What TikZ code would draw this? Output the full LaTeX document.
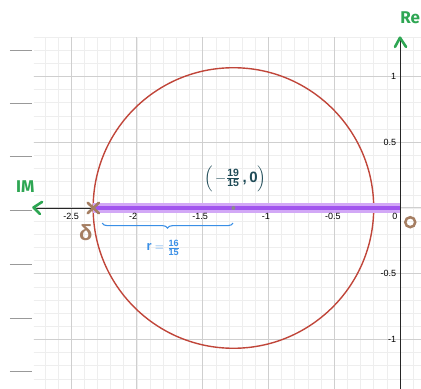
\documentclass[tikz,border=0pt]{standalone}
\usepackage{amsmath}
\usepackage{fontspec}
\setmainfont{Liberation Sans}
\newfontfamily\hand{Fira Sans}
\usetikzlibrary{decorations.pathreplacing}
\definecolor{gminor}{HTML}{EEEEEE}
\definecolor{gmajor}{HTML}{CFCFCF}
\definecolor{greenlab}{HTML}{2EA653}
\definecolor{circ}{HTML}{C0463A}
\definecolor{bandout}{HTML}{D2A8F6}
\definecolor{bandin}{HTML}{A155EE}
\definecolor{brownm}{HTML}{A57E62}
\definecolor{tealm}{HTML}{1F4B57}
\definecolor{bluem}{HTML}{3A8FE6}
\begin{document}
\begin{tikzpicture}[x=131.5pt,y=131.5pt,
  minorline/.style={draw=gminor,line width=0.7pt},
  majorline/.style={draw=gmajor,line width=1pt},
  axisline/.style={draw=black!85,line width=0.9pt},
  ticklab/.style={font=\fontsize{9}{10}\selectfont,inner sep=1pt},
  greenmark/.style={draw=greenlab,line width=2.6pt,line cap=round,line join=round},
  brownmark/.style={draw=brownm,line width=2.6pt,line cap=round},
  leftstub/.style={draw=black!40,line width=1pt}]
\useasboundingbox (-3.0418,-1.3764) rectangle (0.1597,1.5817);
% grid
\begin{scope}
\clip (-2.785,-1.3764) rectangle (0.1597,1.293);
\foreach \i in {-28,...,1} {\draw[minorline] (\i/10,-1.4) -- (\i/10,1.3);}
\foreach \j in {-14,...,13} {\draw[minorline] (-2.8,\j/10) -- (0.2,\j/10);}
\foreach \i in {-5,...,0} {\draw[majorline] (\i/2,-1.4) -- (\i/2,1.3);}
\foreach \j in {-2,...,2} {\draw[majorline] (-2.8,\j/2) -- (0.2,\j/2);}
\end{scope}
% left stubs
\foreach \p in {51,104,157,211,264,318,371}
  {\draw[leftstub] (-2.966,{(208-\p)/131.5}) -- (-2.80,{(208-\p)/131.5});}
% coordinates
\coordinate (O) at (0,0);
\coordinate (ytop) at (0,1.29);
\coordinate (ybot) at (0,-1.3764);
\coordinate (xleft) at (-2.787,0);
\coordinate (D) at (-2.3333,0);
\coordinate (C) at (-1.2667,0);
% axes
\draw[axisline] (ybot) -- (ytop);
\draw[axisline] (xleft) -- (O);
% circle
\draw[circ,line width=1.4pt] (C) circle (1.0667);
% purple band
\draw[bandout,line width=10pt] (D) -- (O);
\draw[bandin,line width=3.5pt] (D) -- (O);
% center point
\fill[black!45] (C) circle (2pt);
% tick labels
\node[ticklab,anchor=north] at (-2.5,-0.03) {-2.5};
\node[ticklab,anchor=north] at (-2.03,-0.03) {-2};
\node[ticklab,anchor=north] at (-1.52,-0.03) {-1.5};
\node[ticklab,anchor=north] at (-1.02,-0.03) {-1};
\node[ticklab,anchor=north] at (-0.51,-0.03) {-0.5};
\node[ticklab,anchor=north east] at (-0.01,-0.03) {0};
\node[ticklab,anchor=east] at (-0.02,1) {1};
\node[ticklab,anchor=east] at (-0.02,0.5) {0.5};
\node[ticklab,anchor=east] at (-0.02,-0.5) {-0.5};
\node[ticklab,anchor=east] at (-0.02,-1) {-1};
% green arrows and labels
\draw[greenmark] (-0.038,1.225) -- (0,1.295) -- (0.046,1.225);
\draw[greenmark] (-2.722,0.046) -- (-2.787,0.004) -- (-2.738,-0.046);
\node[text=greenlab,font=\hand\bfseries\fontsize{17}{18}\selectfont] (Re) at (0.078,1.45) {Re};
\node[text=greenlab,font=\hand\bfseries\fontsize{17}{18}\selectfont] (Im) at (-2.85,0.165) {IM};
% brown marks
\draw[brownmark] (-2.375,0.04) -- (-2.29,-0.04);
\draw[brownmark] (-2.375,-0.04) -- (-2.29,0.04);
\node[text=brownm,font=\bfseries\fontsize{22}{22}\selectfont] (delta) at (-2.39,-0.19) {δ};
\node[draw=brownm,circle,line width=2.5pt,minimum size=10pt,inner sep=0pt] (zero) at (0.078,-0.108) {};
% center label
\node[text=tealm,font=\fontsize{15}{15}\selectfont,inner sep=1pt] (Clab) at (-1.254,0.225) {$\Bigl(\,{-}\tfrac{\textbf{19}}{\textbf{15}}\,\textbf{,}\,\textbf{0}\Bigr)$};
% brace and radius
\draw[bluem,line width=1.1pt,decorate,decoration={brace,mirror,amplitude=5pt}] (-2.265,-0.115) -- (-1.27,-0.115);
\node[text=bluem,font=\fontsize{13}{13}\selectfont] (rlab) at (-1.8,-0.3) {$\textbf{r}=\frac{\textbf{16}}{\textbf{15}}$};
\end{tikzpicture}
\end{document}
